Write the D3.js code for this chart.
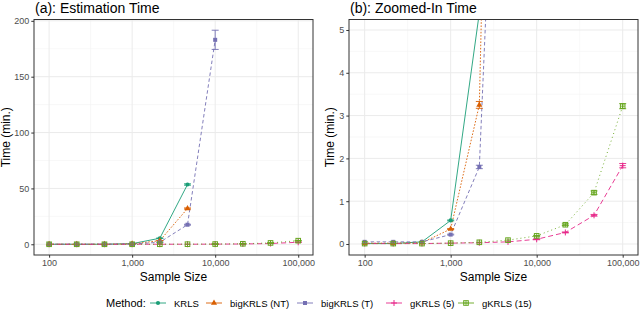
<!DOCTYPE html>
<html>
<head>
<meta charset="utf-8">
<script src="https://cdn.jsdelivr.net/npm/d3@7"></script>
<style>
  body { margin: 0; background: #fff; }
  svg, svg text { font-family: "Liberation Sans", Arial, sans-serif; }
</style>
</head>
<body>
<svg id="chart" width="640" height="310"></svg>
<script>
// sample sizes (log spaced)
var sampleSizes = [100, 215, 464, 1000, 2154, 4642, 10000, 21544, 46416, 100000];
var methods = ["KRLS", "bigKRLS (NT)", "bigKRLS (T)", "gKRLS (5)", "gKRLS (15)"];

// mean time in minutes (null = not run)
var krlsTime   = [0.01, 0.01, 0.05, 0.55, 5.4, 53.5, null, null, null, null];
var bigNTTime  = [0.02, 0.02, 0.03, 0.35, 3.25, 32, null, null, null, null];
var bigTTime   = [0.05, 0.05, 0.05, 0.22, 1.8, 17.5, 183, null, null, null];
var g5Time     = [0.01, 0.01, 0.01, 0.02, 0.03, 0.05, 0.11, 0.27, 0.67, 1.83];
var g15Time    = [0.01, 0.01, 0.01, 0.02, 0.04, 0.09, 0.19, 0.45, 1.2, 3.22];

// error bar half widths
var krlsErr  = [0, 0, 0, 0.01, 0.1, 0.6, null, null, null, null];
var bigNTErr = [0, 0, 0, 0.01, 0.08, 0.5, null, null, null, null];
var bigTErr  = [0, 0, 0, 0.01, 0.04, 0.4, 8.6, null, null, null];
var g5Err    = [0, 0, 0, 0, 0, 0, 0.01, 0.01, 0.02, 0.05];
var g15Err   = [0, 0, 0, 0, 0, 0, 0.01, 0.02, 0.04, 0.06];

var xTicks = [100, 1000, 10000, 100000];
var yTicksA = [0, 50, 100, 150, 200];
var yTicksB = [0, 1, 2, 3, 4, 5];

var colors = ["#1B9E77", "#D95F02", "#7570B3", "#E7298A", "#66A61E"];
var dashes = [null, "1.6,1.6", "3.5,2.5", "5,3", "1,3"];
var shapes = ["circle", "triangle", "square", "plus", "boxplus"];

var series = methods.map(function(m, i) {
  var vals = [krlsTime, bigNTTime, bigTTime, g5Time, g15Time][i];
  var errs = [krlsErr, bigNTErr, bigTErr, g5Err, g15Err][i];
  var pts = [];
  sampleSizes.forEach(function(n, j) {
    if (vals[j] !== null) pts.push({n: n, t: vals[j], e: errs[j]});
  });
  return {name: m, color: colors[i], dash: dashes[i], shape: shapes[i], pts: pts};
});

var svg = d3.select("#chart");
var fmt = d3.format(",");
var FONT = "Liberation Sans, Arial, sans-serif";

function drawShape(g, shape, x, y, color) {
  if (shape === "circle") {
    g.append("circle").attr("cx", x).attr("cy", y).attr("r", 2.1).attr("fill", color);
  } else if (shape === "triangle") {
    g.append("path").attr("d", d3.symbol().type(d3.symbolTriangle).size(16)())
      .attr("transform", "translate(" + x + "," + y + ")").attr("fill", color);
  } else if (shape === "square") {
    g.append("rect").attr("x", x - 2).attr("y", y - 2).attr("width", 4).attr("height", 4).attr("fill", color);
  } else if (shape === "plus") {
    g.append("path").attr("d", "M" + (x - 3) + "," + y + "H" + (x + 3) + "M" + x + "," + (y - 3) + "V" + (y + 3))
      .attr("stroke", color).attr("stroke-width", 1).attr("fill", "none");
  } else {
    g.append("rect").attr("x", x - 2.3).attr("y", y - 2.3).attr("width", 4.6).attr("height", 4.6)
      .attr("fill", "none").attr("stroke", color).attr("stroke-width", 1);
    g.append("path").attr("d", "M" + (x - 2.3) + "," + y + "H" + (x + 2.3) + "M" + x + "," + (y - 2.3) + "V" + (y + 2.3))
      .attr("stroke", color).attr("stroke-width", 0.8).attr("fill", "none");
  }
}

function panel(opt) {
  var x = d3.scaleLog().domain([Math.pow(10, 1.818), Math.pow(10, 5.178)]).range([opt.left, opt.right]);
  var y = d3.scaleLinear().domain(opt.yDomain).range([opt.bottom, opt.top]);
  var g = svg.append("g");
  var clipId = "clip" + opt.id;
  svg.append("clipPath").attr("id", clipId).append("rect")
    .attr("x", opt.left).attr("y", opt.top).attr("width", opt.right - opt.left).attr("height", opt.bottom - opt.top);

  // minor grid
  var xMinor = [2.5, 3.5, 4.5].map(function(p) { return Math.pow(10, p); });
  g.selectAll(".xminor").data(xMinor).enter().append("line")
    .attr("x1", x).attr("x2", x).attr("y1", opt.top).attr("y2", opt.bottom)
    .attr("stroke", "#F4F4F4").attr("stroke-width", 0.6);
  var step = opt.yTicks[1] - opt.yTicks[0];
  var yMinor = opt.yTicks.slice(0, -1).map(function(v) { return v + step / 2; });
  g.selectAll(".yminor").data(yMinor).enter().append("line")
    .attr("x1", opt.left).attr("x2", opt.right).attr("y1", y).attr("y2", y)
    .attr("stroke", "#F4F4F4").attr("stroke-width", 0.6);
  // major grid
  g.selectAll(".xmajor").data(xTicks).enter().append("line")
    .attr("x1", x).attr("x2", x).attr("y1", opt.top).attr("y2", opt.bottom)
    .attr("stroke", "#EBEBEB").attr("stroke-width", 1);
  g.selectAll(".ymajor").data(opt.yTicks).enter().append("line")
    .attr("x1", opt.left).attr("x2", opt.right).attr("y1", y).attr("y2", y)
    .attr("stroke", "#EBEBEB").attr("stroke-width", 1);

  // axes
  var xAxis = d3.axisBottom(x).tickValues(xTicks).tickFormat(fmt).tickSize(2.7).tickPadding(2);
  var ax = svg.append("g").attr("transform", "translate(0," + opt.bottom + ")").call(xAxis);
  var yAxis = d3.axisLeft(y).tickValues(opt.yTicks).tickFormat(d3.format("d")).tickSize(2.7).tickPadding(2);
  var ay = svg.append("g").attr("transform", "translate(" + opt.left + ",0)").call(yAxis);
  [ax, ay].forEach(function(a) {
    a.attr("font-family", FONT).attr("font-size", 9);
    a.select(".domain").remove();
    a.selectAll("line").attr("stroke", "#333333");
    a.selectAll("text").attr("fill", "#4D4D4D");
  });

  // series
  var line = d3.line().x(function(d) { return x(d.n); }).y(function(d) { return y(d.t); });
  var data = svg.append("g").attr("clip-path", "url(#" + clipId + ")");
  series.forEach(function(s) {
    data.append("path").attr("d", line(s.pts)).attr("fill", "none")
      .attr("stroke", s.color).attr("stroke-width", 0.9)
      .attr("stroke-dasharray", s.dash);
  });
  series.forEach(function(s) {
    var eg = data.append("g");
    s.pts.forEach(function(p) {
      if (p.e > 0) {
        var cx = x(p.n), y0 = y(p.t - p.e), y1 = y(p.t + p.e);
        eg.append("path").attr("d", "M" + (cx - 3.5) + "," + y0 + "H" + (cx + 3.5) +
          "M" + (cx - 3.5) + "," + y1 + "H" + (cx + 3.5) + "M" + cx + "," + y0 + "V" + y1)
          .attr("stroke", s.color).attr("stroke-width", 0.9).attr("fill", "none");
      }
      drawShape(eg, s.shape, x(p.n), y(p.t), s.color);
    });
  });

  // border
  svg.append("rect").attr("x", opt.left).attr("y", opt.top)
    .attr("width", opt.right - opt.left).attr("height", opt.bottom - opt.top)
    .attr("fill", "none").attr("stroke", "#333333").attr("stroke-width", 1);

  // titles
  svg.append("text").attr("x", opt.left + 1).attr("y", 13).text(opt.title)
    .style("font-size", "14px").attr("fill", "#000");
  svg.append("text").attr("x", (opt.left + opt.right) / 2).attr("y", 281)
    .attr("text-anchor", "middle").text("Sample Size").style("font-size", "12px");
  svg.append("text").attr("transform", "translate(" + opt.yTitleX + "," + ((opt.top + opt.bottom) / 2) + ") rotate(-90)")
    .attr("text-anchor", "middle").text("Time (min.)").style("font-size", "12px");
}

panel({id: "a", left: 34, right: 313, top: 19.5, bottom: 255, yDomain: [-9.6, 201.2],
  yTicks: yTicksA, title: "(a): Estimation Time", yTitleX: 10});
panel({id: "b", left: 349, right: 638, top: 19.5, bottom: 255, yDomain: [-0.257, 5.245],
  yTicks: yTicksB, title: "(b): Zoomed-In Time", yTitleX: 334});

// legend
var leg = svg.append("g").attr("transform", "translate(0,303)");
leg.append("text").attr("x", 106).attr("y", 4).text("Method:").style("font-size", "11px");
var keyX = [150, 206, 297, 386, 458];
series.forEach(function(s, i) {
  var kx = keyX[i];
  leg.append("line").attr("x1", kx).attr("x2", kx + 16).attr("y1", 0).attr("y2", 0)
    .attr("stroke", s.color).attr("stroke-width", 0.9);
  drawShape(leg, s.shape, kx + 8, 0, s.color);
  leg.append("text").attr("x", kx + 24).attr("y", 3.5).text(s.name).style("font-size", "9.5px");
});
</script>
</body>
</html>
